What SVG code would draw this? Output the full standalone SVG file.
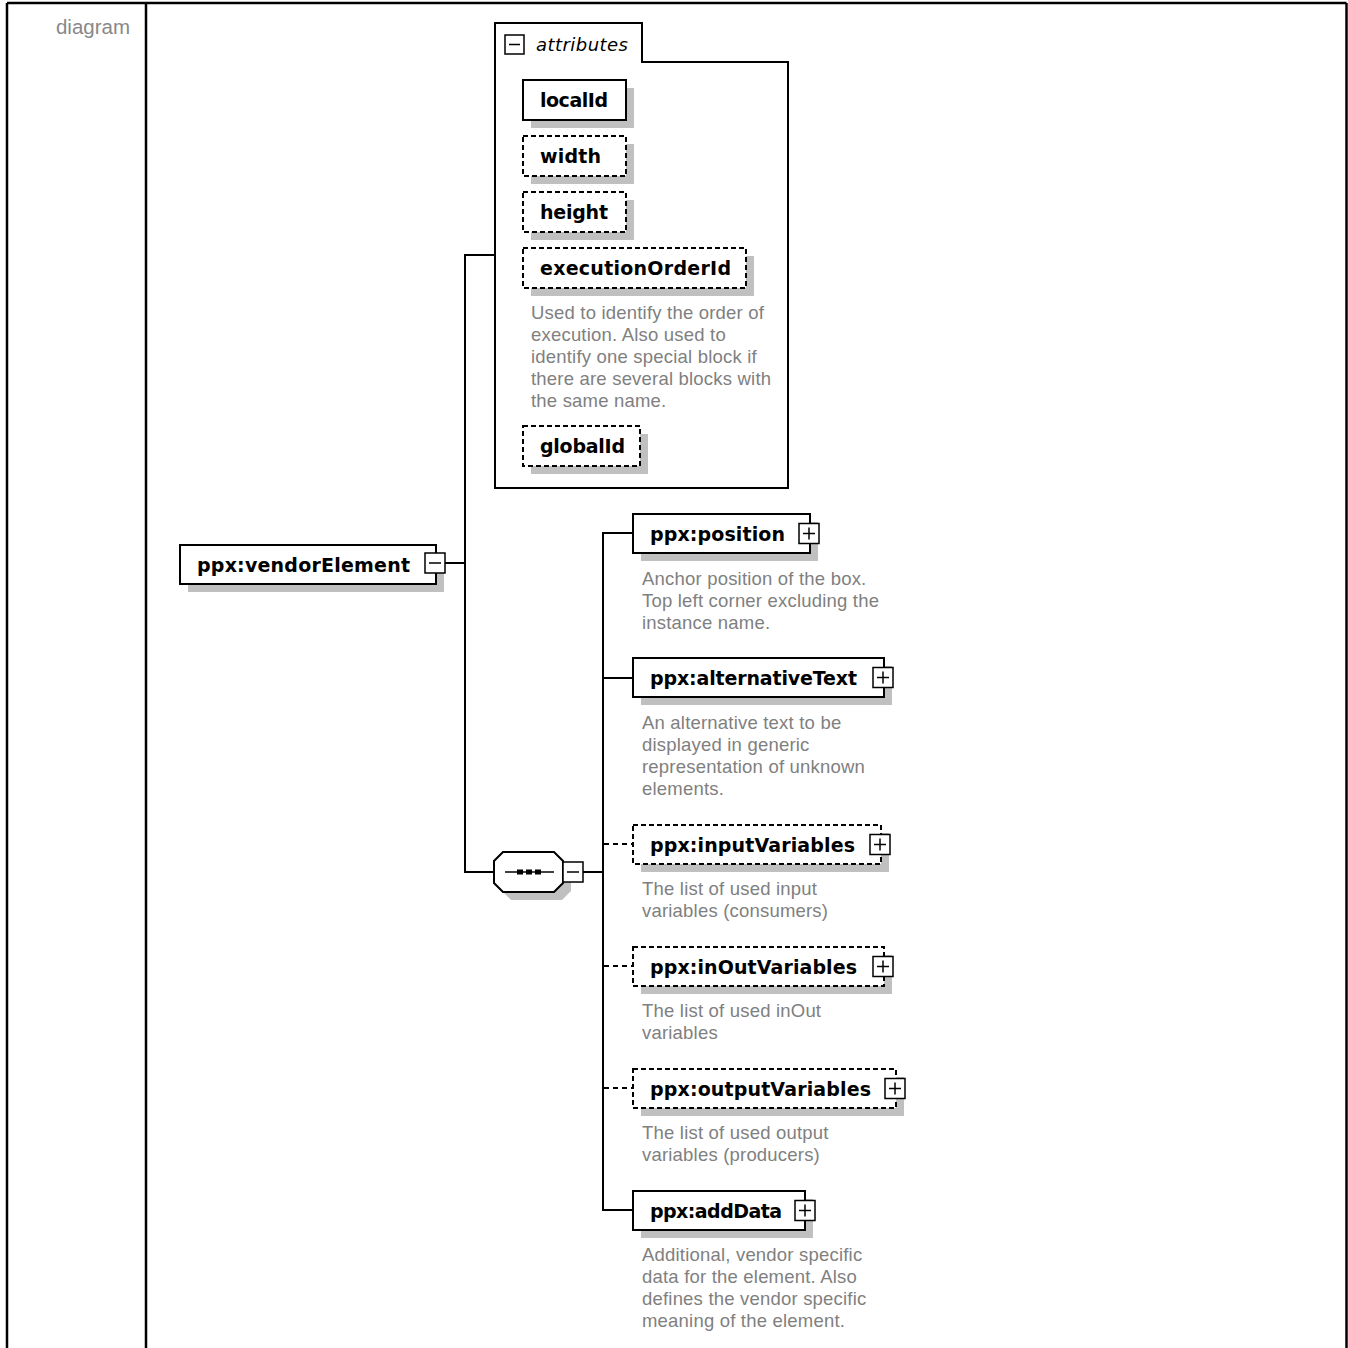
<svg xmlns="http://www.w3.org/2000/svg" width="1348" height="1348" viewBox="0 0 1348 1348">
<style>
.bg{fill:#fff}
.tbl{stroke:#000;stroke-width:2.5;fill:none}
.box{fill:#fff;stroke:#000;stroke-width:2}
.opt{stroke-dasharray:5,3}
.shadow{fill:#c0c0c0}
.lbl{font-family:"DejaVu Sans",Verdana,sans-serif;font-weight:bold;font-size:19px;fill:#000}
.desc{font-family:"Liberation Sans",Arial,sans-serif;font-size:18.5px;letter-spacing:0.2px;fill:#808080}
.icon{fill:#fff;stroke:#000;stroke-width:1.5}
.conn{stroke:#000;stroke-width:2;fill:none}
.dash{stroke-dasharray:5,4}
</style>
<rect class="bg" x="0" y="0" width="1348" height="1348"/>
<g id="table">
<line class="tbl" x1="7" y1="3" x2="1346.5" y2="3"/>
<line class="tbl" x1="7" y1="3" x2="7" y2="1348"/>
<line class="tbl" x1="146" y1="3" x2="146" y2="1348"/>
<line class="tbl" x1="1346.5" y1="3" x2="1346.5" y2="1348"/>
<text x="130" y="34" text-anchor="end" style="font-family:'Liberation Sans',Arial,sans-serif;font-size:20.5px;fill:#888">diagram</text>
</g>
<g id="connectors">
<line class="conn" x1="445" y1="563" x2="465" y2="563"/>
<line class="conn" x1="465" y1="254" x2="465" y2="873"/>
<line class="conn" x1="464" y1="255" x2="495" y2="255"/>
<line class="conn" x1="464" y1="872" x2="494" y2="872"/>
<line class="conn" x1="583" y1="872" x2="603" y2="872"/>
<line class="conn" x1="603" y1="532" x2="603" y2="1211"/>
<line class="conn" x1="602" y1="533" x2="633" y2="533"/>
<line class="conn" x1="602" y1="678" x2="633" y2="678"/>
<line class="conn dash" x1="604" y1="844" x2="633" y2="844"/>
<line class="conn dash" x1="604" y1="966" x2="633" y2="966"/>
<line class="conn dash" x1="604" y1="1088" x2="633" y2="1088"/>
<line class="conn" x1="602" y1="1210" x2="633" y2="1210"/>
</g>
<g id="attributes">
<path class="box" d="M495,488 V23 H642 V62 H788 V488 Z"/>
<rect class="icon" x="505" y="35" width="19" height="19"/>
<line x1="509" y1="44.5" x2="520" y2="44.5" stroke="#000" stroke-width="1.5"/>
<text x="536" y="51" textLength="92" style="font-family:'DejaVu Sans',Verdana,sans-serif;font-style:italic;font-size:18px;fill:#000">attributes</text>
</g>
<g id="localId">
<rect class="shadow" x="531" y="88" width="103" height="40"/>
<rect class="box" x="523" y="80" width="103" height="40"/>
<text class="lbl" x="540" y="107" textLength="68">localId</text>
</g>
<g id="width">
<rect class="shadow" x="531" y="144" width="103" height="40"/>
<rect class="box opt" x="523" y="136" width="103" height="40"/>
<text class="lbl" x="540" y="163" textLength="61">width</text>
</g>
<g id="height">
<rect class="shadow" x="531" y="200" width="103" height="40"/>
<rect class="box opt" x="523" y="192" width="103" height="40"/>
<text class="lbl" x="540" y="219" textLength="68">height</text>
</g>
<g id="executionOrderId">
<rect class="shadow" x="531" y="256" width="223" height="40"/>
<rect class="box opt" x="523" y="248" width="223" height="40"/>
<text class="lbl" x="540" y="275" textLength="191">executionOrderId</text>
<text class="desc" x="531" y="319">Used to identify the order of</text>
<text class="desc" x="531" y="341">execution. Also used to</text>
<text class="desc" x="531" y="363">identify one special block if</text>
<text class="desc" x="531" y="385">there are several blocks with</text>
<text class="desc" x="531" y="407">the same name.</text>
</g>
<g id="globalId">
<rect class="shadow" x="531" y="434" width="117" height="40"/>
<rect class="box opt" x="523" y="426" width="117" height="40"/>
<text class="lbl" x="540" y="453" textLength="85">globalId</text>
</g>
<g id="vendorElement">
<rect class="shadow" x="188" y="553" width="256" height="39"/>
<rect class="box" x="180" y="545" width="256" height="39"/>
<text class="lbl" x="197" y="572" textLength="213">ppx:vendorElement</text>
<rect class="icon" x="425" y="553" width="20" height="20"/>
<line x1="429" y1="563" x2="441" y2="563" stroke="#000" stroke-width="1.5"/>
</g>
<g id="sequence">
<polygon class="shadow" points="511,860 562,860 571,869 571,891 562,900 511,900 502,891 502,869"/>
<polygon class="box" points="503,852 554,852 563,861 563,883 554,892 503,892 494,883 494,861"/>
<line x1="505" y1="872" x2="554" y2="872" stroke="#000" stroke-width="1.5"/>
<rect x="517" y="869.5" width="6" height="5" fill="#000"/>
<rect x="526" y="869.5" width="6" height="5" fill="#000"/>
<rect x="535" y="869.5" width="6" height="5" fill="#000"/>
<rect class="icon" x="563" y="862" width="20" height="20"/>
<line x1="567" y1="872" x2="579" y2="872" stroke="#000" stroke-width="1.5"/>
</g>
<g id="position">
<rect class="shadow" x="641" y="522" width="177" height="39"/>
<rect class="box" x="633" y="514" width="177" height="39"/>
<text class="lbl" x="650" y="541" textLength="135">ppx:position</text>
<rect class="icon" x="799" y="523.5" width="20" height="20"/>
<line x1="803" y1="533.5" x2="815" y2="533.5" stroke="#000" stroke-width="1.5"/>
<line x1="809" y1="527.5" x2="809" y2="539.5" stroke="#000" stroke-width="1.5"/>
<text class="desc" x="642" y="585">Anchor position of the box.</text>
<text class="desc" x="642" y="607">Top left corner excluding the</text>
<text class="desc" x="642" y="629">instance name.</text>
</g>
<g id="alternativeText">
<rect class="shadow" x="641" y="666" width="251" height="39"/>
<rect class="box" x="633" y="658" width="251" height="39"/>
<text class="lbl" x="650" y="685" textLength="207">ppx:alternativeText</text>
<rect class="icon" x="873" y="667.5" width="20" height="20"/>
<line x1="877" y1="677.5" x2="889" y2="677.5" stroke="#000" stroke-width="1.5"/>
<line x1="883" y1="671.5" x2="883" y2="683.5" stroke="#000" stroke-width="1.5"/>
<text class="desc" x="642" y="729">An alternative text to be</text>
<text class="desc" x="642" y="751">displayed in generic</text>
<text class="desc" x="642" y="773">representation of unknown</text>
<text class="desc" x="642" y="795">elements.</text>
</g>
<g id="inputVariables">
<rect class="shadow" x="641" y="833" width="248" height="39"/>
<rect class="box opt" x="633" y="825" width="248" height="39"/>
<text class="lbl" x="650" y="852" textLength="205">ppx:inputVariables</text>
<rect class="icon" x="870" y="834.5" width="20" height="20"/>
<line x1="874" y1="844.5" x2="886" y2="844.5" stroke="#000" stroke-width="1.5"/>
<line x1="880" y1="838.5" x2="880" y2="850.5" stroke="#000" stroke-width="1.5"/>
<text class="desc" x="642" y="895">The list of used input</text>
<text class="desc" x="642" y="917">variables (consumers)</text>
</g>
<g id="inOutVariables">
<rect class="shadow" x="641" y="955" width="251" height="39"/>
<rect class="box opt" x="633" y="947" width="251" height="39"/>
<text class="lbl" x="650" y="974" textLength="207">ppx:inOutVariables</text>
<rect class="icon" x="873" y="956.5" width="20" height="20"/>
<line x1="877" y1="966.5" x2="889" y2="966.5" stroke="#000" stroke-width="1.5"/>
<line x1="883" y1="960.5" x2="883" y2="972.5" stroke="#000" stroke-width="1.5"/>
<text class="desc" x="642" y="1017">The list of used inOut</text>
<text class="desc" x="642" y="1039">variables</text>
</g>
<g id="outputVariables">
<rect class="shadow" x="641" y="1077" width="263" height="39"/>
<rect class="box opt" x="633" y="1069" width="263" height="39"/>
<text class="lbl" x="650" y="1096" textLength="221">ppx:outputVariables</text>
<rect class="icon" x="885" y="1078.5" width="20" height="20"/>
<line x1="889" y1="1088.5" x2="901" y2="1088.5" stroke="#000" stroke-width="1.5"/>
<line x1="895" y1="1082.5" x2="895" y2="1094.5" stroke="#000" stroke-width="1.5"/>
<text class="desc" x="642" y="1139">The list of used output</text>
<text class="desc" x="642" y="1161">variables (producers)</text>
</g>
<g id="addData">
<rect class="shadow" x="641" y="1199" width="172" height="39"/>
<rect class="box" x="633" y="1191" width="172" height="39"/>
<text class="lbl" x="650" y="1218" textLength="132">ppx:addData</text>
<rect class="icon" x="795" y="1200.5" width="20" height="20"/>
<line x1="799" y1="1210.5" x2="811" y2="1210.5" stroke="#000" stroke-width="1.5"/>
<line x1="805" y1="1204.5" x2="805" y2="1216.5" stroke="#000" stroke-width="1.5"/>
<text class="desc" x="642" y="1261">Additional, vendor specific</text>
<text class="desc" x="642" y="1283">data for the element. Also</text>
<text class="desc" x="642" y="1305">defines the vendor specific</text>
<text class="desc" x="642" y="1327">meaning of the element.</text>
</g>
</svg>
